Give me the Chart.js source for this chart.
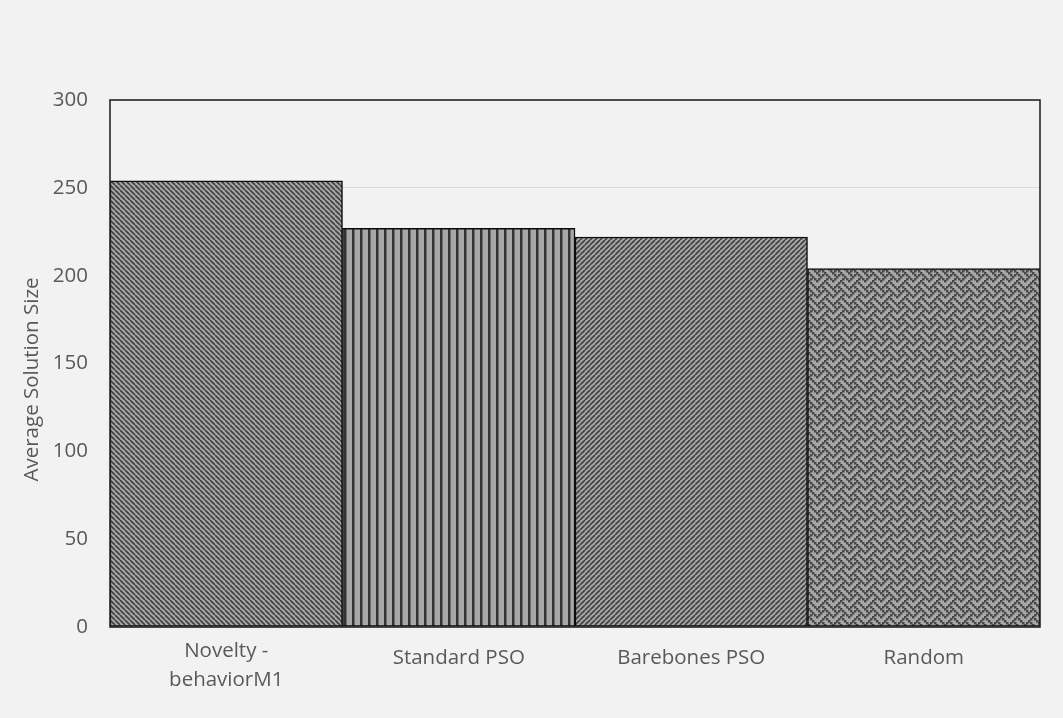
<!DOCTYPE html>
<html>
<head>
<meta charset="utf-8">
<script src="https://cdn.jsdelivr.net/npm/chart.js@4.4.1/dist/chart.umd.min.js"></script>
<style>
  html, body { margin: 0; padding: 0; background: #f2f2f2; }
  #wrap { width: 1063px; height: 718px; }
</style>
</head>
<body>
<div id="wrap"><canvas id="chart" width="1063" height="718"></canvas></div>
<script>
// Categories and average solution sizes
const categories = [["Novelty -", "behaviorM1"], "Standard PSO", "Barebones PSO", "Random"];
const avgSolutionSize = [254, 227, 222, 204];
const yTickMin = 0;
const yTickMax = 300;
const yTickStep = 50;

const FG = '#424242';
const BG = '#a8a8a8';

// Diagonal stripe tile; dir = 1 for "\" lines, -1 for "/" lines
function diagPattern(ctx, p, w, dir) {
  const c = document.createElement('canvas');
  c.width = p; c.height = p;
  const g = c.getContext('2d');
  g.fillStyle = BG; g.fillRect(0, 0, p, p);
  g.strokeStyle = FG; g.lineWidth = w;
  for (let k = -1; k <= 1; k++) {
    g.beginPath();
    if (dir > 0) { g.moveTo(k * p, 0); g.lineTo(k * p + p, p); }
    else { g.moveTo(k * p, p); g.lineTo(k * p + p, 0); }
    g.stroke();
  }
  return ctx.createPattern(c, 'repeat');
}

// Vertical line tile
function vertPattern(ctx, p, w) {
  const c = document.createElement('canvas');
  c.width = p; c.height = 2;
  const g = c.getContext('2d');
  g.fillStyle = BG; g.fillRect(0, 0, p, 2);
  g.fillStyle = '#333333'; g.fillRect(0, 0, w, 2);
  g.fillStyle = '#6e6e6e'; g.fillRect(w, 0, 1, 2);
  return ctx.createPattern(c, 'repeat');
}

// Herringbone weave tile from a small bitmap, with thickened strokes
function weavePattern(ctx, scale, dot, color) {
  const rows = [
    '10001000',
    '01010100',
    '00100010',
    '01000101',
    '10001000',
    '00010100',
    '00100010',
    '01010001'
  ];
  const n = rows.length;
  const size = n * scale;
  const c = document.createElement('canvas');
  c.width = size; c.height = size;
  const g = c.getContext('2d');
  g.fillStyle = BG; g.fillRect(0, 0, size, size);
  g.fillStyle = color;
  rows.forEach((r, y) => {
    for (let x = 0; x < r.length; x++) {
      if (r[x] !== '1') continue;
      for (let dx = -size; dx <= size; dx += size) {
        for (let dy = -size; dy <= size; dy += size) {
          g.fillRect(x * scale + dx, y * scale + dy, dot, dot);
        }
      }
    }
  });
  return ctx.createPattern(c, 'repeat');
}

const canvas = document.getElementById('chart');
const ctx = canvas.getContext('2d');
const fills = [
  diagPattern(ctx, 5, 1.7, 1),
  vertPattern(ctx, 8, 2),
  diagPattern(ctx, 5, 1.7, -1),
  weavePattern(ctx, 2, 2.5, '#484848')
];

const FONT = "'Open Sans', 'DejaVu Sans', sans-serif";
const TEXT = '#595959';

// Page background and the frame around the plot area
const framePlugin = {
  id: 'frame',
  beforeDraw(chart) {
    const g = chart.ctx;
    g.save();
    g.fillStyle = '#f2f2f2';
    g.fillRect(0, 0, chart.width, chart.height);
    g.restore();
  },
  afterDatasetsDraw(chart) {
    const a = chart.chartArea;
    const g = chart.ctx;
    g.save();
    g.strokeStyle = '#262626';
    g.lineWidth = 1.6;
    g.strokeRect(a.left, a.top, a.right - a.left, a.bottom - a.top);
    g.restore();
  }
};

new Chart(ctx, {
  type: 'bar',
  data: {
    labels: categories,
    datasets: [{
      data: avgSolutionSize,
      backgroundColor: fills,
      borderColor: '#0d0d0d',
      borderWidth: 1.5,
      borderSkipped: false,
      categoryPercentage: 1.0,
      barPercentage: 1.0
    }]
  },
  options: {
    responsive: false,
    animation: false,
    devicePixelRatio: 1,
    layout: { padding: { top: 100, right: 23, left: 0, bottom: 0 } },
    plugins: { legend: { display: false }, tooltip: { enabled: false } },
    scales: {
      x: {
        grid: { display: false, drawTicks: false },
        border: { display: false },
        ticks: {
          color: TEXT,
          padding: 9,
          maxRotation: 0,
          autoSkip: false,
          font: (c) => ({ family: FONT, size: 20.5, lineHeight: c.index === 0 ? 1.45 : 2.2 })
        },
        afterFit(s) { s.height = 91; }
      },
      y: {
        min: yTickMin,
        max: yTickMax,
        grid: { color: '#d9d9d9', lineWidth: 1, drawTicks: false },
        border: { display: false },
        ticks: {
          stepSize: yTickStep,
          color: TEXT,
          padding: 22,
          font: { family: FONT, size: 20.5 }
        },
        title: {
          display: true,
          text: 'Average Solution Size      ',
          color: TEXT,
          font: { family: FONT, size: 20.5 },
          padding: { top: 20, bottom: 0 }
        },
        afterFit(s) { s.width = 110; }
      }
    }
  },
  plugins: [framePlugin]
});
</script>
</body>
</html>
